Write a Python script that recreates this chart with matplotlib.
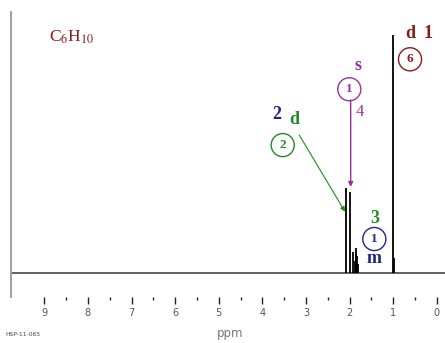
#!/usr/bin/env python3
"""1H NMR spectrum of C6H10 (4-methyl-1-pentyne), stick redraw."""
import matplotlib

matplotlib.use("Agg")
import matplotlib.pyplot as plt
import numpy as np

# peak positions (ppm) and relative heights (tallest = 1)
peak_ppm = [2.07, 1.99, 1.93, 1.87, 1.855, 1.84, 1.825, 1.81, 0.995, 0.99]
peak_height = [0.356, 0.34, 0.087, 0.05, 0.085, 0.105, 0.07, 0.035, 1.0, 0.06]

major_ticks = [9, 8, 7, 6, 5, 4, 3, 2, 1, 0]
minor_ticks = [8.5, 7.5, 6.5, 5.5, 4.5, 3.5, 2.5, 1.5, 0.5]

DARKRED = "#8b1a1a"
PURPLE = "#993399"
BLUE = "#22228b"
GREEN = "#228b22"
SERIF = ["Liberation Serif", "DejaVu Serif"]

fig = plt.figure(figsize=(4.45, 3.43), dpi=100)
ax = fig.add_axes([11 / 445, 46 / 343, 434 / 445, 285 / 343])

ax.axhline(0, color="#555555", lw=1.3, zorder=1)
ax.vlines(peak_ppm, 0, peak_height, color="black", lw=1.3, zorder=2)

ax.set_xlim(9.764, -0.19)
ax.set_ylim(-0.102, 1.097)

for side in ("top", "right", "bottom"):
    ax.spines[side].set_visible(False)
ax.spines["left"].set_color("#999999")
ax.spines["left"].set_linewidth(1.3)
ax.set_yticks([])
ax.set_xticks(major_ticks)
ax.set_xticks(minor_ticks, minor=True)
ax.set_xticklabels([str(t) for t in major_ticks])
ax.tick_params(axis="x", which="major", direction="out", length=5, width=1,
               color="#222222", pad=3, labelsize=7, labelcolor="#555555")
ax.tick_params(axis="x", which="minor", direction="out", length=2.5, width=1,
               color="#222222")

ax.set_xlabel("ppm", fontsize=8.5, color="#777777")
ax.xaxis.set_label_coords(0.505, -0.105)
fig.text(5 / 445, 1 - 334 / 343, "HSP-11-065", fontsize=4.3, color="#444444",
         va="center", ha="left")

# formula
ax.text(8.365, 0.99, r"C$_6$H$_{10}$", color=DARKRED, fontsize=12.5,
        family=SERIF, ha="center", va="center", math_fontfamily="stix")

circ = dict(boxstyle="circle,pad=0.42", fc="white", lw=1)
BIG = 13
SMALL = 9.5

# group 1: d, 6H
ax.text(0.612, 1.007, "d", color=DARKRED, fontsize=BIG, weight="bold",
        family=SERIF, ha="center", va="center")
ax.text(0.193, 1.007, "1", color=DARKRED, fontsize=BIG, weight="bold",
        family=SERIF, ha="center", va="center")
ax.text(0.612, 0.898, "6", color=DARKRED, fontsize=SMALL, weight="bold",
        family=SERIF, ha="center", va="center", bbox=dict(circ, ec=DARKRED))

# group 4: s, 1H
ax.text(1.798, 0.874, "s", color=PURPLE, fontsize=BIG, weight="bold",
        family=SERIF, ha="center", va="center")
ax.text(2.005, 0.772, "1", color=PURPLE, fontsize=SMALL, weight="bold",
        family=SERIF, ha="center", va="center", bbox=dict(circ, ec=PURPLE))
ax.text(1.775, 0.677, "4", color=PURPLE, fontsize=12, family=SERIF,
        ha="center", va="center")
ax.annotate("", xy=(1.973, 0.361), xytext=(1.973, 0.727),
            arrowprops=dict(arrowstyle="-|>", color=PURPLE, lw=1,
                            mutation_scale=7, shrinkA=0, shrinkB=0))

# group 2: d, 2H
ax.text(3.67, 0.666, "2", color=BLUE, fontsize=BIG, weight="bold",
        family=SERIF, ha="center", va="center")
ax.text(3.273, 0.643, "d", color=GREEN, fontsize=BIG, weight="bold",
        family=SERIF, ha="center", va="center")
ax.text(3.532, 0.537, "2", color=GREEN, fontsize=SMALL, weight="bold",
        family=SERIF, ha="center", va="center", bbox=dict(circ, ec=GREEN))
ax.annotate("", xy=(2.103, 0.257), xytext=(3.151, 0.579),
            arrowprops=dict(arrowstyle="-|>", color=GREEN, lw=0.8,
                            mutation_scale=7, shrinkA=0, shrinkB=0))

# group 3: m, 1H
ax.text(1.431, 0.229, "3", color=GREEN, fontsize=BIG, weight="bold",
        family=SERIF, ha="center", va="center")
ax.text(1.431, 0.142, "1", color=BLUE, fontsize=SMALL, weight="bold",
        family=SERIF, ha="center", va="center", bbox=dict(circ, ec=BLUE))
ax.text(1.431, 0.058, "m", color=BLUE, fontsize=BIG, weight="bold",
        family=SERIF, ha="center", va="center")

fig.savefig("out.png", dpi=100)
plt.close(fig)
